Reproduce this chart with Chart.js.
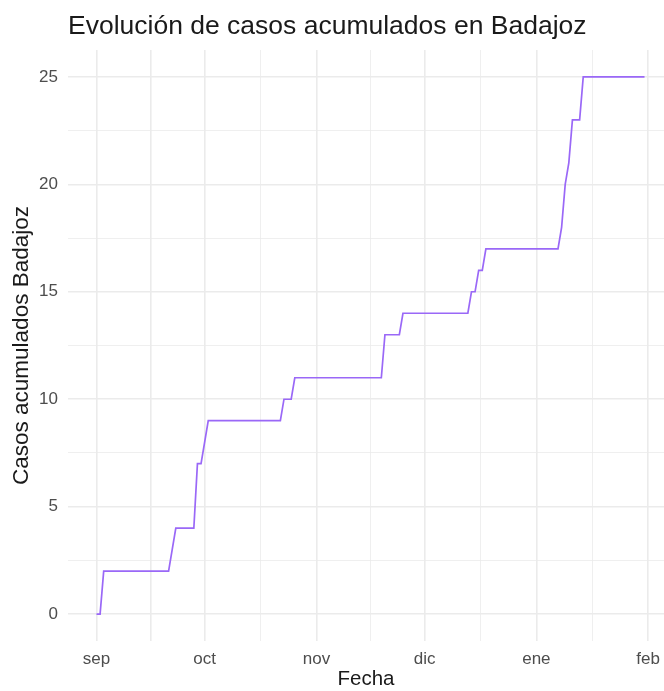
<!DOCTYPE html>
<html>
<head>
<meta charset="utf-8">
<script src="https://cdn.jsdelivr.net/npm/chart.js@4/dist/chart.umd.min.js"></script>
<style>
  body { margin: 0; background: #fff; }
</style>
</head>
<body>
<canvas id="grafico" width="664" height="691"></canvas>
<script>
// fechas con cambio de pendiente (2020-2021) y casos acumulados
var fechas = [
    '2020-09-01', '2020-09-02', '2020-09-03', '2020-09-21', '2020-09-22', '2020-09-23',
    '2020-09-28', '2020-09-29', '2020-09-30', '2020-10-01', '2020-10-02', '2020-10-22',
    '2020-10-23', '2020-10-25', '2020-10-26', '2020-11-19', '2020-11-20', '2020-11-24',
    '2020-11-25', '2020-12-13', '2020-12-14', '2020-12-15', '2020-12-16', '2020-12-17',
    '2020-12-18', '2021-01-07', '2021-01-08', '2021-01-09', '2021-01-10', '2021-01-11',
    '2021-01-13', '2021-01-14', '2021-01-31'
];
var casos = [
    0, 0, 2, 2, 3, 4,
    4, 7, 7, 8, 9, 9,
    10, 10, 11, 11, 13, 13,
    14, 14, 15, 15, 16, 16,
    17, 17, 18, 20, 21, 23,
    23, 25, 25
];

// marcas del eje x
var mesesFechas = ['2020-09-01', '2020-10-01', '2020-11-01', '2020-12-01', '2021-01-01', '2021-02-01'];
var mesesEtiquetas = ['sep', 'oct', 'nov', 'dic', 'ene', 'feb'];
var ticksY = [0, 5, 10, 15, 20, 25];

var titulo = 'Evolución de casos acumulados en Badajoz';

function dias(f) {
    var p = f.split('-');
    return (Date.UTC(+p[0], +p[1] - 1, +p[2]) - Date.UTC(2020, 8, 1)) / 864e5;
}

var mesesX = mesesFechas.map(dias);
// lineas menores a mitad de camino, como ggplot
var todasX = [];
mesesX.forEach(function (v, i) {
    todasX.push(v);
    if (i < mesesX.length - 1) todasX.push((v + mesesX[i + 1]) / 2);
});
var todasY = [];
ticksY.forEach(function (v, i) {
    todasY.push(v);
    if (i < ticksY.length - 1) todasY.push(v + 2.5);
});

var puntos = fechas.map(function (f, i) { return { x: dias(f), y: casos[i] }; });

var fuente = "'Liberation Sans', Arial, Helvetica, sans-serif";

var pluginTitulo = {
    id: 'tituloIzq',
    afterDraw: function (chart) {
        var ctx = chart.ctx;
        ctx.save();
        ctx.fillStyle = '#1a1a1a';
        ctx.font = '26.5px ' + fuente;
        ctx.textBaseline = 'alphabetic';
        ctx.textAlign = 'left';
        ctx.fillText(titulo, chart.chartArea.left, 34);
        ctx.restore();
    }
};

var grid = {
    color: '#ebebeb',
    lineWidth: function (c) {
        if (!c.tick) return 0.7;
        return (mesesX.indexOf(c.tick.value) >= 0 || ticksY.indexOf(c.tick.value) >= 0) ? 1.6 : 0.8;
    },
    drawTicks: false
};

var configGrafico = {
    type: 'line',
    data: {
        datasets: [{
            data: puntos,
            borderColor: '#9a68f7',
            borderWidth: 1.7,
            pointRadius: 0,
            tension: 0,
            fill: false
        }]
    },
    options: {
        responsive: false,
        animation: false,
        layout: { padding: { top: 50, right: 0, left: 0, bottom: 0 } },
        plugins: {
            legend: { display: false },
            tooltip: { enabled: false }
        },
        scales: {
            x: {
                type: 'linear',
                min: -7.9,
                max: 157.4,
                border: { display: false },
                grid: grid,
                afterBuildTicks: function (s) {
                    s.ticks = todasX.map(function (v) { return { value: v }; });
                },
                afterFit: function (s) {
                    s.height = 50;
                    s.paddingLeft = 0;
                    s.paddingRight = 0;
                },
                ticks: {
                    autoSkip: false,
                    maxRotation: 0,
                    padding: 8,
                    color: '#4d4d4d',
                    font: { family: fuente, size: 17 },
                    callback: function (v) {
                        var i = mesesX.indexOf(v);
                        return i >= 0 ? mesesEtiquetas[i] : '';
                    }
                },
                title: {
                    display: true,
                    text: 'Fecha',
                    color: '#1a1a1a',
                    font: { family: fuente, size: 20.5, lineHeight: 1 },
                    padding: { top: 0, bottom: 1 }
                }
            },
            y: {
                type: 'linear',
                min: -1.25,
                max: 26.25,
                border: { display: false },
                grid: grid,
                afterBuildTicks: function (s) {
                    s.ticks = todasY.map(function (v) { return { value: v }; });
                },
                afterFit: function (s) {
                    s.width = 68;
                    s.paddingTop = 0;
                    s.paddingBottom = 0;
                },
                ticks: {
                    padding: 10,
                    color: '#4d4d4d',
                    font: { family: fuente, size: 17 },
                    callback: function (v) {
                        return ticksY.indexOf(v) >= 0 ? String(v) : '';
                    }
                },
                title: {
                    display: true,
                    text: 'Casos acumulados Badajoz',
                    color: '#1a1a1a',
                    font: { family: fuente, size: 22.5 },
                    padding: { top: 8, bottom: 0 }
                }
            }
        }
    },
    plugins: [pluginTitulo]
};

window.onload = function () {
    var ctx = document.querySelector('#grafico').getContext('2d');
    var grafico = new Chart(ctx, configGrafico);
};
</script>
</body>
</html>
